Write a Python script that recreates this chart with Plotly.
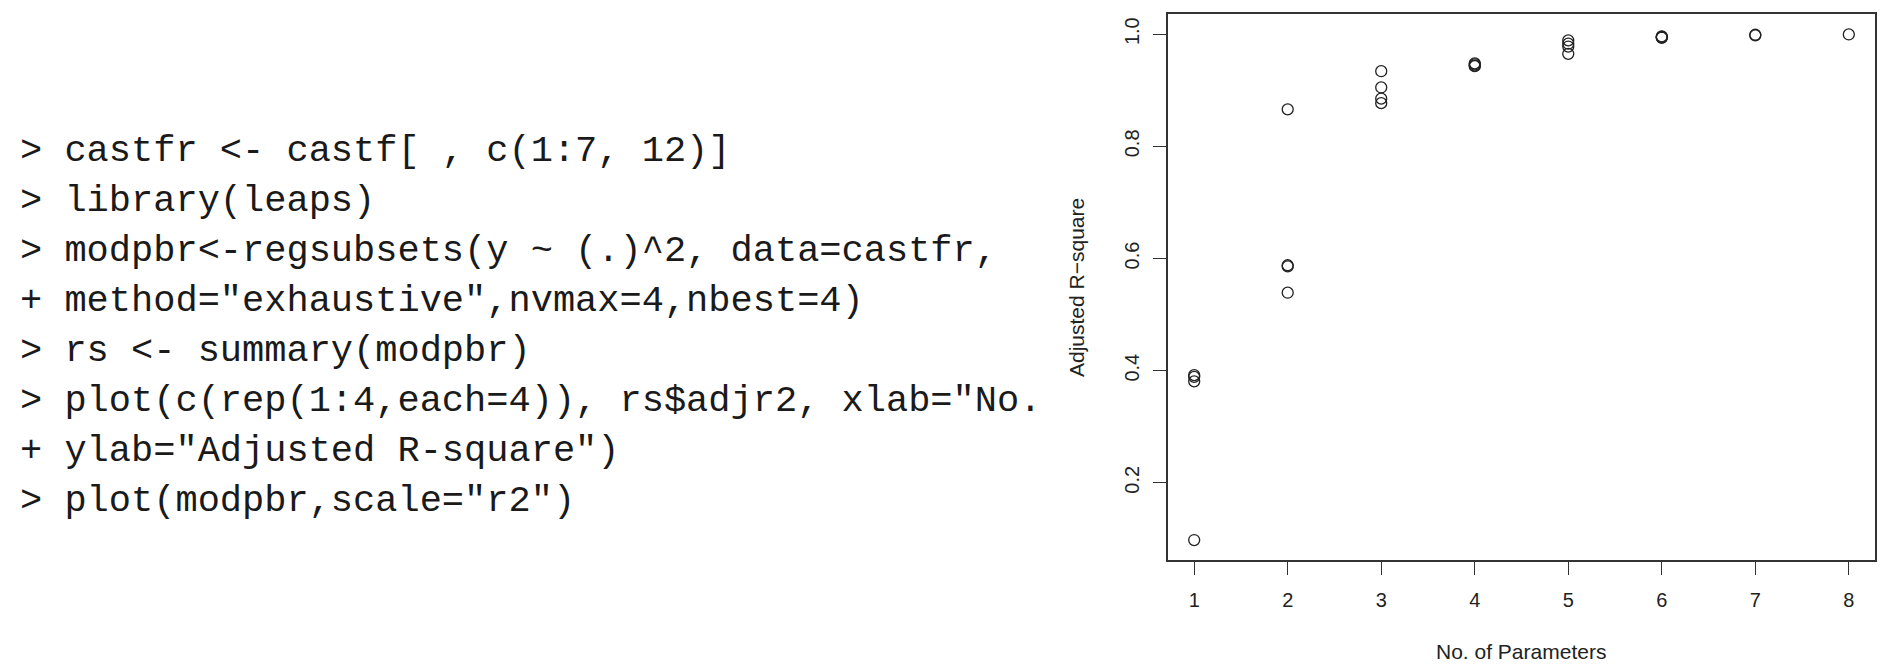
import plotly.graph_objects as go

# ---- data ----
n_params = [1, 1, 1, 1,
            2, 2, 2, 2,
            3, 3, 3, 3,
            4, 4, 4, 4,
            5, 5, 5, 5,
            6, 6, 6, 6,
            7, 7,
            8]
adj_r2 = [0.392, 0.389, 0.381, 0.098,
          0.866, 0.588, 0.586, 0.539,
          0.934, 0.905, 0.885, 0.877,
          0.948, 0.946, 0.944, 0.943,
          0.989, 0.983, 0.978, 0.965,
          0.996, 0.995, 0.994, 0.994,
          0.999, 0.998,
          0.9995]
x_ticks = [1, 2, 3, 4, 5, 6, 7, 8]
y_ticks = [0.2, 0.4, 0.6, 0.8, 1.0]
y_ticktext = ["0.2", "0.4", "0.6", "0.8", "1.0"]
x_title = "No. of Parameters"
y_title = "Adjusted R\u2212square"
code_lines = [
    '> castfr &lt;- castf[ , c(1:7, 12)]',
    '> library(leaps)',
    '> modpbr&lt;-regsubsets(y ~ (.)^2, data=castfr,',
    '+ method="exhaustive",nvmax=4,nbest=4)',
    '> rs &lt;- summary(modpbr)',
    '> plot(c(rep(1:4,each=4)), rs$adjr2, xlab="No.',
    '+ ylab="Adjusted R-square")',
    '> plot(modpbr,scale="r2")',
]

W, H = 1885, 664
px_left, px_right, px_top, px_bottom = 1160, 1867, 6, 552

fig = go.Figure()
fig.add_trace(go.Scatter(
    x=n_params, y=adj_r2, mode="markers",
    marker=dict(symbol="circle-open", size=11, color="#222",
                line=dict(width=1.3, color="#222")),
    showlegend=False, hoverinfo="skip"))

axis_common = dict(
    showgrid=False, zeroline=False, showline=True, mirror=True,
    linecolor="#333", linewidth=1.5, ticks="outside", ticklen=13,
    tickwidth=1.2, tickcolor="#333",
    tickfont=dict(family="Liberation Sans, Arial", size=20, color="#222"),
)

fig.update_xaxes(
    range=[0.72, 8.28], tickmode="array", tickvals=x_ticks,
    domain=[px_left / W, px_right / W], ticklabelstandoff=8,
    **axis_common)
fig.update_yaxes(
    range=[0.0624, 1.036], tickmode="array", tickvals=y_ticks,
    ticktext=y_ticktext, tickangle=-90,
    domain=[1 - px_bottom / H, 1 - px_top / H], ticklabelstandoff=6,
    **axis_common)

annotations = []
annotations.append(dict(
    text=x_title, xref="paper", yref="paper",
    x=1513 / W, y=1 - 643 / H, xanchor="center", yanchor="middle",
    showarrow=False,
    font=dict(family="Liberation Sans, Arial", size=21, color="#222")))
annotations.append(dict(
    text=y_title, xref="paper", yref="paper", textangle=-90,
    x=1068 / W, y=1 - 280 / H, xanchor="center", yanchor="middle",
    showarrow=False,
    font=dict(family="Liberation Sans, Arial", size=21, color="#222")))
for i, line in enumerate(code_lines):
    annotations.append(dict(
        text=line, xref="paper", yref="paper",
        x=10 / W, y=1 - (143 + 50 * i) / H,
        xanchor="left", yanchor="middle", showarrow=False,
        font=dict(family="Liberation Mono, DejaVu Sans Mono, monospace",
                  size=37, color="#1a1a1a")))

fig.update_layout(
    width=W, height=H,
    margin=dict(l=0, r=0, t=0, b=0),
    paper_bgcolor="white", plot_bgcolor="white",
    annotations=annotations,
)

fig.write_html("out.html")
